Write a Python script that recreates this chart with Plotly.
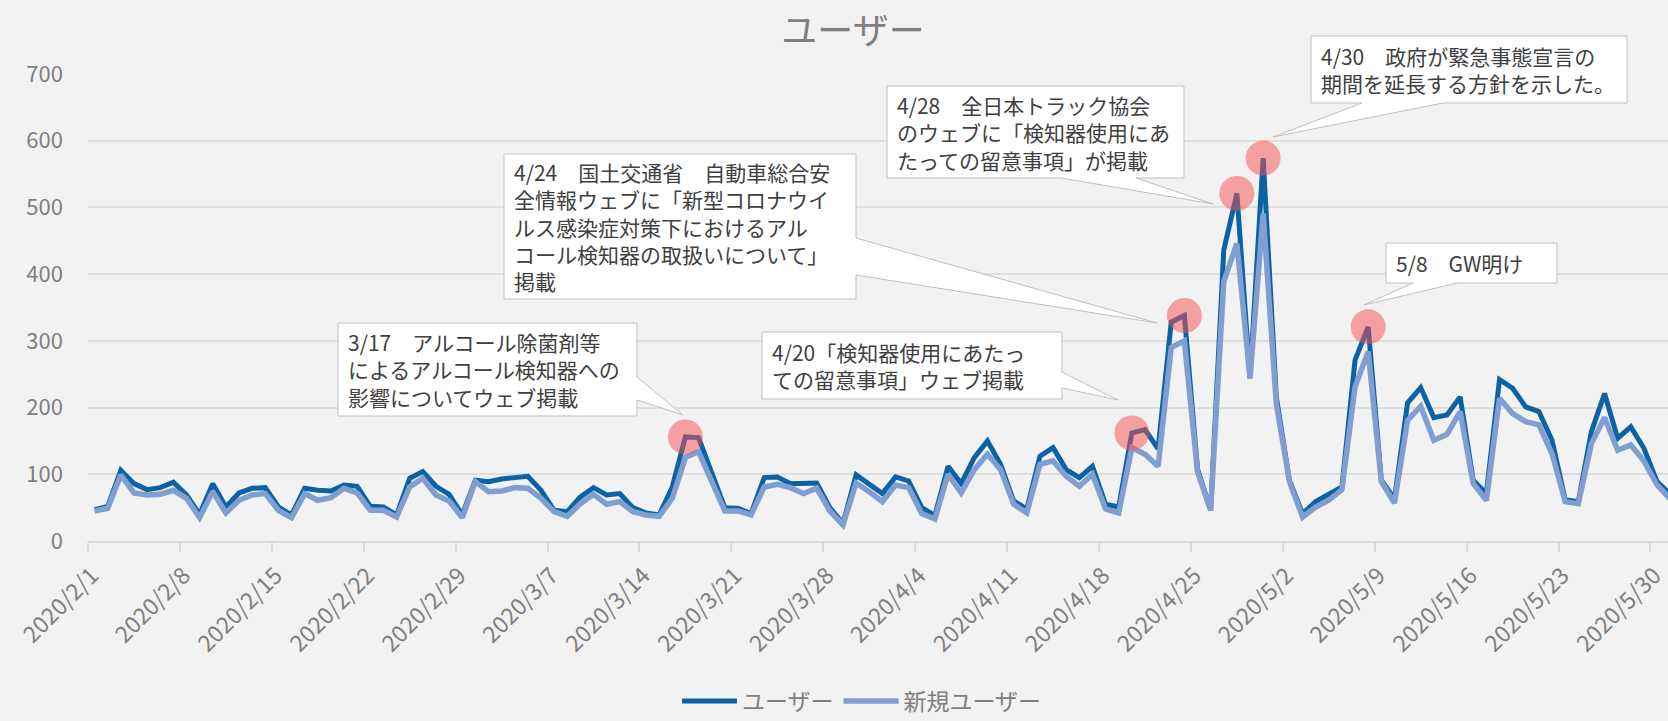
import pandas as pd
import plotly.graph_objects as go

# ---------------- data ----------------
start_date = "2020-02-01"
end_date = "2020-05-31"
dates = pd.date_range(start_date, end_date, freq="D")

users = [47, 52, 106, 86, 77, 80, 88, 69, 40, 86, 51, 72, 79, 80, 51, 39, 79, 76, 75, 84,
         82, 52, 51, 39, 94, 104, 82, 70, 39, 91, 89, 93, 95, 97, 76, 46, 44, 66, 80, 69,
         71, 50, 42, 39, 81, 156, 155, 101, 50, 49, 41, 95, 96, 86, 86, 87, 50, 26, 99, 85,
         71, 96, 90, 50, 38, 112, 86, 125, 150, 115, 60, 48, 127, 140, 107, 95, 112, 55, 51, 162,
         167, 138, 328, 338, 108, 46, 436, 521, 244, 574, 216, 91, 41, 59, 69, 81, 271, 321, 91, 63,
         207, 230, 185, 189, 216, 91, 71, 242, 229, 201, 194, 151, 62, 59, 164, 221, 154, 171, 139, 89,
         70]
new_users = [45, 49, 99, 72, 69, 70, 76, 64, 35, 74, 42, 61, 69, 71, 46, 35, 71, 61, 65, 79,
             72, 46, 46, 36, 81, 94, 69, 60, 35, 89, 74, 75, 80, 79, 64, 44, 37, 56, 70, 55,
             59, 44, 39, 37, 64, 125, 134, 91, 45, 45, 39, 81, 85, 80, 71, 79, 45, 24, 87, 74,
             59, 84, 80, 41, 33, 100, 72, 107, 130, 107, 55, 42, 115, 120, 97, 82, 100, 48, 42, 140,
             130, 112, 290, 300, 104, 46, 389, 446, 244, 491, 206, 89, 36, 51, 61, 77, 231, 284, 89, 57,
             181, 202, 151, 160, 194, 86, 61, 214, 191, 179, 174, 131, 59, 56, 146, 185, 136, 144, 120, 84,
             63]

series_names = ["ユーザー", "新規ユーザー"]
chart_title = "ユーザー"

event_dates = ["2020-03-17", "2020-04-20", "2020-04-24", "2020-04-28", "2020-04-30", "2020-05-08"]
event_texts = [
    "3/17　アルコール除菌剤等<br>によるアルコール検知器への<br>影響についてウェブ掲載",
    "4/20「検知器使用にあたっ<br>ての留意事項」ウェブ掲載",
    "4/24　国土交通省　自動車総合安<br>全情報ウェブに「新型コロナウイ<br>ルス感染症対策下におけるアル<br>コール検知器の取扱いについて」<br>掲載",
    "4/28　全日本トラック協会<br>のウェブに「検知器使用にあ<br>たっての留意事項」が掲載",
    "4/30　政府が緊急事態宣言の<br>期間を延長する方針を示した。",
    "5/8　GW明け",
]

tick_dates = pd.date_range("2020-02-01", "2020-05-30", freq="7D")
tick_labels = [f"{d.year}/{d.month}/{d.day}" for d in tick_dates]

# ---------------- layout constants ----------------
W, H = 1668, 721
ML, MR, MT, MB = 88, 0, 74, 180
PW, PH = W - ML - MR, H - MT - MB
Y_BOTTOM = H - MB
FONT = "Noto Sans CJK JP, Noto Sans, sans-serif"
GRAY = "#7f7f7f"
DARK = "#0b62a4"
LIGHT = "#809fd0"


def px(x):
    return (x - ML) / PW


def py(y):
    return (Y_BOTTOM - y) / PH


fig = go.Figure()
fig.add_trace(go.Scatter(x=dates, y=users, name=series_names[0], mode="lines",
                         line=dict(color=DARK, width=5)))
fig.add_trace(go.Scatter(x=dates, y=new_users, name=series_names[1], mode="lines",
                         line=dict(color=LIGHT, width=5.5)))

val_by_date = dict(zip(dates.strftime("%Y-%m-%d"), users))
fig.add_trace(go.Scatter(x=event_dates, y=[val_by_date[d] for d in event_dates], mode="markers",
                         marker=dict(size=35, color="rgba(248,78,78,0.5)", line=dict(width=0)),
                         showlegend=False, hoverinfo="skip"))

# callout boxes: (left, top, right, bottom, side, b1, b2, tipx, tipy) in pixels
callouts = [
    (338, 323, 637, 416, "right", 377, 400, 683, 415),
    (762, 332, 1062, 399, "right", 372, 388, 1118, 400),
    (504, 154, 856, 299, "right", 238, 275, 1157, 323),
    (887, 86, 1184, 178, "bottom", 1061, 1136, 1213, 204),
    (1311, 36, 1627, 103, "bottom", 1362, 1443, 1273, 137),
    (1386, 243, 1557, 283, "bottom", 1413, 1457, 1364, 305),
]

shapes = []
annotations = []
for (l, t, r, b, side, b1, b2, tx, ty), txt in zip(callouts, event_texts):
    if side == "right":
        pts = [(l, t), (r, t), (r, b1), (tx, ty), (r, b2), (r, b), (l, b)]
    else:
        pts = [(l, t), (r, t), (r, b), (b2, b), (tx, ty), (b1, b), (l, b)]
    path = "M " + " L ".join(f"{px(a):.5f},{py(c):.5f}" for a, c in pts) + " Z"
    shapes.append(dict(type="path", path=path, xref="paper", yref="paper",
                       fillcolor="white", line=dict(color="#bfbfbf", width=1), layer="above"))
    annotations.append(dict(x=px(l + 8), y=py((t + b) / 2), xref="paper", yref="paper",
                            text=txt, showarrow=False, xanchor="left", yanchor="middle",
                            align="left", font=dict(family=FONT, size=21, color="#404040")))

fig.update_layout(
    width=W, height=H,
    margin=dict(l=ML, r=MR, t=MT, b=MB, pad=0, autoexpand=False),
    paper_bgcolor="#f2f2f2", plot_bgcolor="#f2f2f2",
    font=dict(family=FONT, color=GRAY, size=20),
    title=dict(text=chart_title, x=853 / W, y=1 - 31 / H, xref="container", yref="container",
               xanchor="center", yanchor="middle", font=dict(family=FONT, size=36, color=GRAY)),
    showlegend=True,
    legend=dict(orientation="h", x=px(862), y=py(701), xanchor="center", yanchor="middle",
                font=dict(family=FONT, size=23, color=GRAY), bgcolor="rgba(0,0,0,0)",
                itemwidth=55),
    shapes=shapes,
    annotations=annotations,
    hovermode=False,
)

fig.update_xaxes(
    type="date", automargin=False,
    range=["2020-01-31 12:00", "2020-05-30 20:00"],
    tickvals=tick_dates - pd.Timedelta(hours=5), ticktext=tick_labels, tickangle=-45,
    ticks="", ticklabelstandoff=10, ticklabeloverflow="allow",
    tickfont=dict(family=FONT, size=23, color=GRAY),
    showgrid=False, zeroline=False,
    showline=True, linecolor="#d9d9d9", linewidth=2,
    minor=dict(ticks="outside", ticklen=9, tickcolor="#d9d9d9", tickwidth=2,
               tick0="2020-01-31 12:00", dtick=7 * 86400000, showgrid=False),
)
fig.update_yaxes(
    range=[0, 700], dtick=100, tick0=0, automargin=False,
    showgrid=True, gridcolor="#dedede", gridwidth=1.5,
    zeroline=False, ticks="", ticklabelstandoff=24,
    tickfont=dict(family=FONT, size=22, color=GRAY),
)

fig.write_html("out.html", config={"displayModeBar": False},
               post_script="document.body.style.margin='0px';document.body.style.overflow='hidden';")
